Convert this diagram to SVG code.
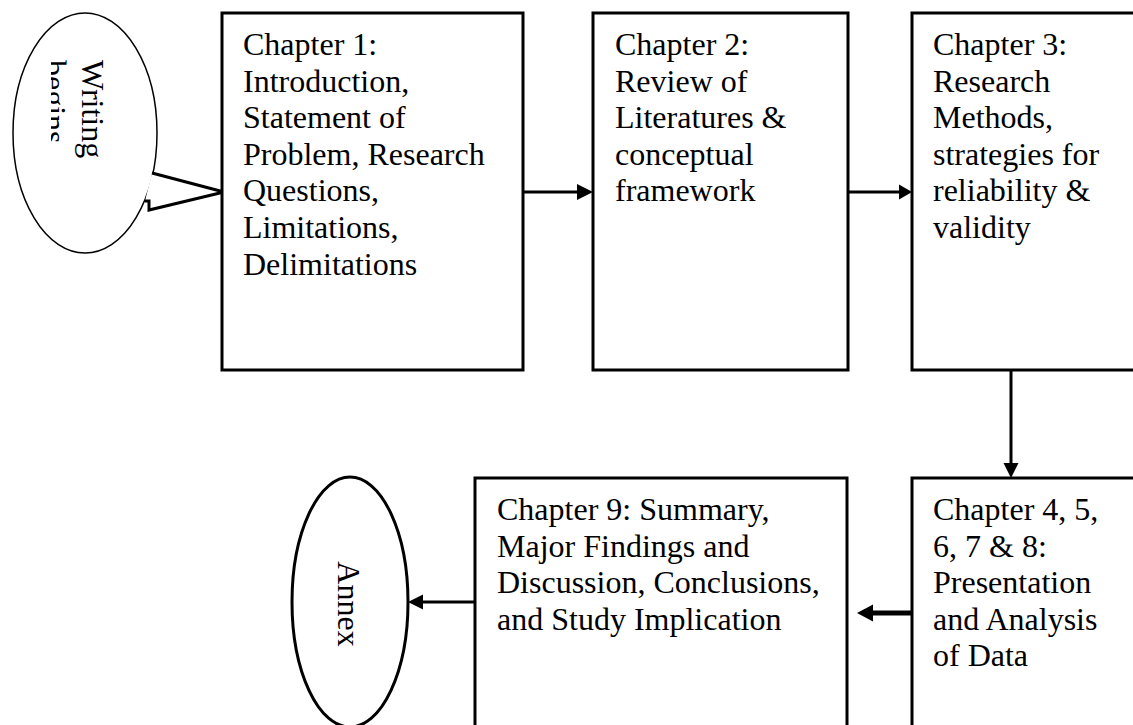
<svg xmlns="http://www.w3.org/2000/svg" width="1133" height="725" viewBox="0 0 1133 725">
  <style>
    .box { fill: #ffffff; stroke: #000000; stroke-width: 3; }
    .txt { font-family: "Liberation Serif", "Times New Roman", serif; font-size: 32px; fill: #000000; }
    .ln { stroke: #000000; stroke-width: 3; fill: none; }
    .hd { fill: #000000; stroke: none; }
  </style>
  <defs>
    <clipPath id="wclip">
      <rect x="51" y="0" width="120" height="300"/>
    </clipPath>
  </defs>
  <rect x="0" y="0" width="1133" height="725" fill="#ffffff"/>

  <g id="node-writing-begins">
    <ellipse cx="85" cy="133" rx="72" ry="120" fill="#ffffff" stroke="#000000" stroke-width="1.5"/>
    <g clip-path="url(#wclip)">
      <text class="txt" transform="translate(82,60) rotate(90)">Writing</text>
      <text class="txt" transform="translate(44,60) rotate(90)">begins</text>
    </g>
    <path d="M152,173 L224,192 L149,210 L149,201 L145,201" fill="#ffffff" stroke="#000000" stroke-width="3" stroke-linejoin="miter"/>
  </g>

  <g id="node-ch1">
    <rect class="box" x="222" y="13" width="301" height="357"/>
    <text class="txt" x="243" y="55">Chapter 1:</text>
    <text class="txt" x="243" y="91.6">Introduction,</text>
    <text class="txt" x="243" y="128.2">Statement of</text>
    <text class="txt" x="243" y="164.8">Problem, Research</text>
    <text class="txt" x="243" y="201.4">Questions,</text>
    <text class="txt" x="243" y="238">Limitations,</text>
    <text class="txt" x="243" y="274.6">Delimitations</text>
  </g>

  <g id="node-ch2">
    <rect class="box" x="593" y="13" width="255" height="357"/>
    <text class="txt" x="615" y="55">Chapter 2:</text>
    <text class="txt" x="615" y="91.6">Review of</text>
    <text class="txt" x="615" y="128.2">Literatures &amp;</text>
    <text class="txt" x="615" y="164.8">conceptual</text>
    <text class="txt" x="615" y="201.4">framework</text>
  </g>

  <g id="node-ch3">
    <rect class="box" x="912" y="13" width="260" height="357"/>
    <text class="txt" x="933" y="55">Chapter 3:</text>
    <text class="txt" x="933" y="91.6">Research</text>
    <text class="txt" x="933" y="128.2">Methods,</text>
    <text class="txt" x="933" y="164.8">strategies for</text>
    <text class="txt" x="933" y="201.4">reliability &amp;</text>
    <text class="txt" x="933" y="238">validity</text>
  </g>

  <g id="node-ch4-8">
    <rect class="box" x="912" y="478" width="260" height="300"/>
    <text class="txt" x="933" y="520">Chapter 4, 5,</text>
    <text class="txt" x="933" y="556.6">6, 7 &amp; 8:</text>
    <text class="txt" x="933" y="593.2">Presentation</text>
    <text class="txt" x="933" y="629.8">and Analysis</text>
    <text class="txt" x="933" y="666.4">of Data</text>
  </g>

  <g id="node-ch9">
    <rect class="box" x="475" y="478" width="372" height="300"/>
    <text class="txt" x="497" y="520">Chapter 9: Summary,</text>
    <text class="txt" x="497" y="556.6">Major Findings and</text>
    <text class="txt" x="497" y="593.2">Discussion, Conclusions,</text>
    <text class="txt" x="497" y="629.8">and Study Implication</text>
  </g>

  <g id="node-annex">
    <ellipse cx="350" cy="602" rx="58" ry="125" fill="#ffffff" stroke="#000000" stroke-width="3"/>
    <text class="txt" text-anchor="middle" transform="translate(338,604) rotate(90)">Annex</text>
  </g>

  <g id="connectors">
    <line class="ln" x1="523" y1="192" x2="580" y2="192"/>
    <polygon class="hd" points="593,192 577,184 577,200"/>
    <line class="ln" x1="848" y1="192" x2="902" y2="192"/>
    <polygon class="hd" points="912,192 899,184.5 899,199.5"/>
    <line class="ln" x1="1011" y1="370" x2="1011" y2="466"/>
    <polygon class="hd" points="1011,478 1003.5,463 1018.5,463"/>
    <line class="ln" x1="912" y1="613" x2="868" y2="613" style="stroke-width:5"/>
    <polygon class="hd" points="857,613 873,604.5 873,621.5"/>
    <line class="ln" x1="475" y1="602" x2="418" y2="602"/>
    <polygon class="hd" points="408,602 423,594.5 423,609.5"/>
  </g>
</svg>
